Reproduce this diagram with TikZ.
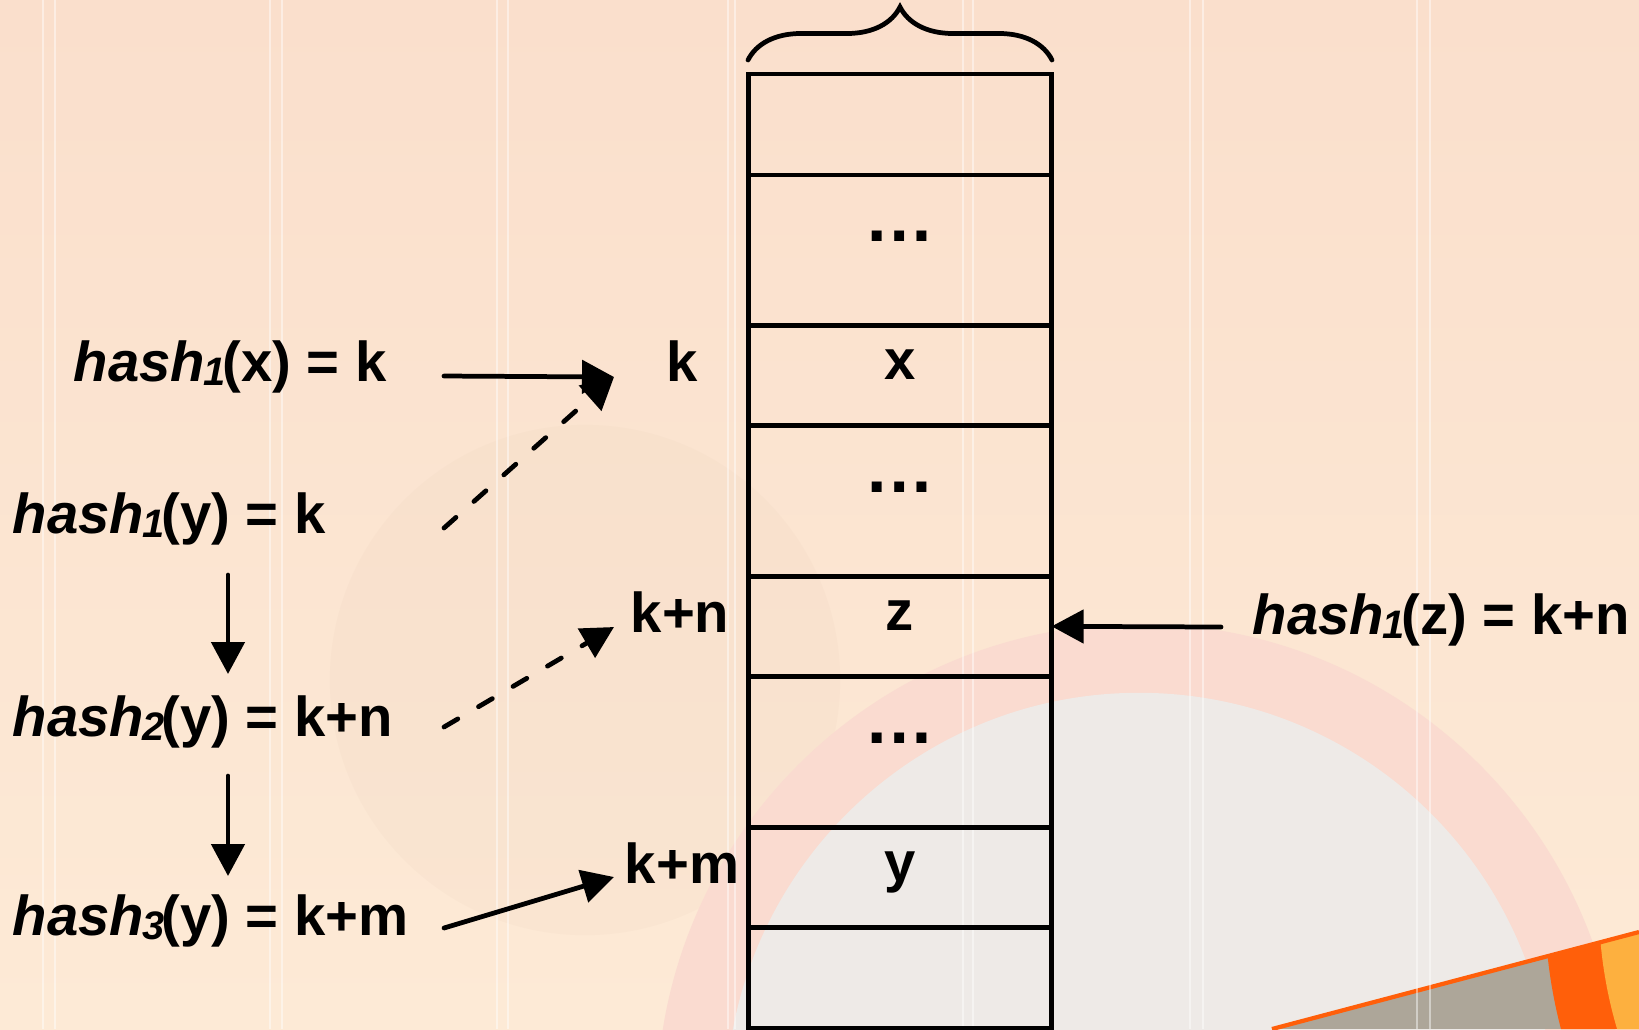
\documentclass[tikz,border=0pt]{standalone}
\usepackage{fontspec}
\setmainfont{Liberation Sans}
\usetikzlibrary{positioning,arrows.meta,decorations.pathreplacing}

\definecolor{peachtop}{HTML}{FADFCC}
\definecolor{peachbot}{HTML}{FDEAD6}
\definecolor{sundisc}{HTML}{E6CCB6}
\definecolor{ringpink}{HTML}{FADBD0}
\definecolor{ringgrey}{HTML}{EEEAE7}
\definecolor{wedgegrey}{HTML}{ADA699}
\definecolor{bandorange}{HTML}{FF5F0A}
\definecolor{bandyellow}{HTML}{FDB03F}

% hash_i(v)
\newcommand{\hsh}[2]{\textit{hash}\kern-0.02em\raisebox{-0.08em}{\fontsize{11.3pt}{11pt}\selectfont\itshape #1}\kern-0.06em(#2)}
\newcommand{\dotrow}{\raisebox{0.125cm}{\fontsize{20pt}{20pt}\selectfont …}}

\begin{document}
\begin{tikzpicture}[x=0.01cm, y=-0.01cm, node distance=0pt,
  cell/.style = {draw, line width=1.35pt, minimum width=3.03cm, inner sep=0pt, outer sep=0pt,
    text height=0.3cm, text depth=0.22cm, font=\fontsize{16pt}{18pt}\selectfont\bfseries},
  lbl/.style = {inner sep=0pt, font=\fontsize{16pt}{18pt}\selectfont\bfseries},
  arr/.style = {line width=1.35pt, line cap=round, -{Triangle[length=0.32cm, width=0.33cm]}},
  dsh/.style = {dash pattern=on 0.16cm off 0.24cm},
  brc/.style = {line width=1.35pt, line cap=round, decorate, decoration={brace, amplitude=0.53cm}}]
\useasboundingbox (0,0) rectangle (1639,1029);

% background
\fill[top color=peachtop, bottom color=peachbot] (0,0) rectangle (1639,1029);
\fill[sundisc, opacity=.12] (585,680) circle[radius=2.55cm];
\fill[ringpink] (1139,1106) circle[radius=4.82cm];
\fill[ringgrey] (1139,1106) circle[radius=4.13cm];
\begin{scope}
  \clip (1272,1029) -- (1639,932) -- (1639,1029) -- cycle;
  \fill[wedgegrey] (1200,900) rectangle (1639,1029);
  \fill[bandorange] (2045,902) circle[radius=5cm];
  \fill[bandyellow] (2045,902) circle[radius=4.46cm];
  \fill[bandorange] (2045,902) circle[radius=3.88cm];
\end{scope}
\draw[bandorange, line width=1.2pt] (1272,1029) -- (1639,932);
\foreach \sa/\sb in {43/55, 270/282, 497/508, 728/735, 963/973, 1190/1203, 1417/1430} {
  \draw[white, opacity=.45, line width=0.6pt] (\sa,0) -- (\sa,1029);
  \draw[white, opacity=.45, line width=0.6pt] (\sb,0) -- (\sb,1029);
}

% table
\node[cell, minimum height=1.01cm, anchor=north] (1) at (900,74) {};
\node[cell, minimum height=1.5cm] (2) [below=of 1] {\dotrow};
\node[cell, minimum height=1.0cm] (3) [below=of 2] {x};
\node[cell, minimum height=1.51cm] (4) [below=of 3] {\dotrow};
\node[cell, minimum height=1.0cm] (5) [below=of 4] {z};
\node[cell, minimum height=1.51cm] (6) [below=of 5] {\dotrow};
\node[cell, minimum height=1.0cm] (7) [below=of 6] {y};
\node[cell, minimum height=1.01cm] (8) [below=of 7] {};

\coordinate (bl) at (748,60);
\coordinate (br) at (1052,60);
\draw[brc] (bl) -- (br);

% labels
\node[lbl, anchor=base west] (hx) at (73,381) {\hsh{1}{x} = k};
\node[lbl, anchor=base west] (hy1) at (12,533) {\hsh{1}{y} = k};
\node[lbl, anchor=base west] (hy2) at (12,736) {\hsh{2}{y} = k+n};
\node[lbl, anchor=base west] (hy3) at (12,935) {\hsh{3}{y} = k+m};
\node[lbl, anchor=base west] (hz) at (1252,634) {\hsh{1}{z} = k+n};
\node[lbl, anchor=base] (k) at (682,381) {k};
\node[lbl, anchor=base] (kn) at (680,632) {k+n};
\node[lbl, anchor=base] (km) at (682,883) {k+m};

% arrows
\coordinate (a1) at (444,376); \coordinate (b1) at (614,377);
\coordinate (a2) at (444,528);
\coordinate (a3) at (444,727); \coordinate (b3) at (614,627);
\coordinate (a4) at (444,928); \coordinate (b4) at (614,877);
\coordinate (a5) at (1221,627);
\coordinate (d1) at (228,575); \coordinate (e1) at (228,674);
\coordinate (d2) at (228,776); \coordinate (e2) at (228,876);

\draw[arr] (a1) -- (b1);
\draw[arr, dsh] (a2) -- (b1);
\draw[arr, dsh] (a3) -- (b3);
\draw[arr] (a4) -- (b4);
\draw[arr] (a5) -- (5.east);
\draw[arr] (d1) -- (e1);
\draw[arr] (d2) -- (e2);

\end{tikzpicture}
\end{document}
